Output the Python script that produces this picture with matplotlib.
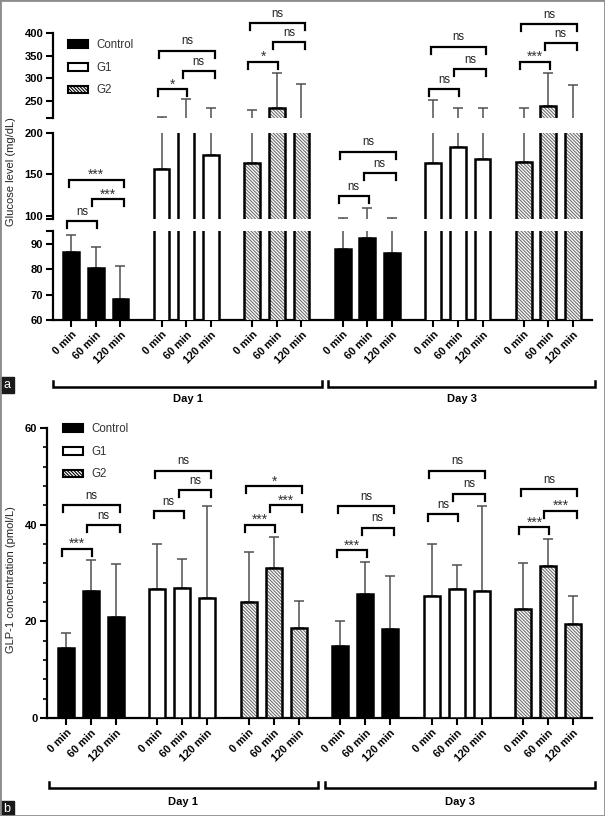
import numpy as np
import matplotlib
matplotlib.use('Agg')
import matplotlib.pyplot as plt
import matplotlib.transforms as mtransforms
from matplotlib.patches import Patch, Rectangle
from matplotlib.ticker import MultipleLocator

plt.rcParams['font.family'] = ['Liberation Sans', 'DejaVu Sans']
plt.rcParams['hatch.linewidth'] = 0.8

days = ['Day 1', 'Day 3']
groups = ['Control', 'G1', 'G2']
times = ['0 min', '60 min', '120 min']

# glucose (mg/dL): Day1 Control/G1/G2 then Day3 Control/G1/G2, 3 time points each
glu_mean = np.array([86.7, 80.4, 68.2, 156.5, 205, 173, 164, 234.5, 205,
                     87.9, 92.2, 86.3, 163.7, 183.4, 168.2, 165, 239, 205])
glu_top = np.array([93.6, 88.9, 81.4, 215, 254, 235, 230, 311, 287,
                    97, 109, 97, 252, 236, 234, 234, 311, 285])

# GLP-1 (pmol/L), same order
glp_mean = np.array([14.5, 26.2, 21.0, 26.6, 26.8, 24.8, 24.1, 31.0, 18.6,
                     15.0, 25.7, 18.5, 25.3, 26.6, 26.3, 22.5, 31.5, 19.4])
glp_top = np.array([17.6, 32.6, 31.9, 36.1, 33.0, 43.8, 34.3, 37.4, 24.3,
                    20.1, 32.3, 29.4, 36.1, 31.7, 43.8, 32.1, 37.0, 25.3])

# significance per group: 0-60, 60-120, 0-120
glu_sig = [['ns', '***', '***'], ['*', 'ns', 'ns'], ['*', 'ns', 'ns'],
           ['ns', 'ns', 'ns'], ['ns', 'ns', 'ns'], ['***', 'ns', 'ns']]
glu_sig_y = [[93.6, 120.2, 143.2], [276.5, 316.8, 361], [336.7, 379.5, 421],
             [123.8, 151.6, 177.4], [276.5, 320.6, 369.8], [336.7, 377, 420]]
glu_sig_ax = ['mid', 'top', 'top', 'mid', 'top', 'top']

glp_sig = [['***', 'ns', 'ns'], ['ns', 'ns', 'ns'], ['***', '***', '*'],
           ['***', 'ns', 'ns'], ['ns', 'ns', 'ns'], ['***', '***', 'ns']]
glp_sig_y = [[35.0, 39.9, 44.1], [42.8, 47.1, 51.2], [40.0, 44.0, 47.9],
             [34.7, 39.4, 43.9], [42.2, 46.4, 51.2], [39.5, 42.9, 47.4]]

W, H = 605, 816
fig = plt.figure(figsize=(W / 100, H / 100), dpi=100)


def box(x0, y0, x1, y1):
    return [x0 / W, 1 - y1 / H, (x1 - x0) / W, (y1 - y0) / H]


pos = np.array([g * 11 / 3 + i for g in range(6) for i in range(3)])
kind = np.array([(k // 3) % 3 for k in range(18)])
HATCH = '\\' * 10


def draw_bars(ax, means, tops):
    for g in range(3):
        idx = kind == g
        if g == 2:
            ax.bar(pos[idx], means[idx], width=0.64, color='white', edgecolor='#707070',
                   lw=0, hatch=HATCH, zorder=3)
            ax.bar(pos[idx], means[idx], width=0.64, fill=False, edgecolor='black',
                   lw=1.8, zorder=4)
        else:
            ax.bar(pos[idx], means[idx], width=0.64, color=['black', 'white'][g],
                   edgecolor='black', lw=1.8, zorder=3)
    ax.errorbar(pos, means, yerr=[np.zeros(18), tops - means], fmt='none',
                ecolor='#505050', elinewidth=1.1, capsize=3.4, capthick=1.1, zorder=2)


def style(ax, bottom=True):
    for s in ['top', 'right']:
        ax.spines[s].set_visible(False)
    ax.spines['left'].set_linewidth(1.6)
    ax.tick_params(axis='y', length=5, width=1.5, labelsize=8, pad=2)
    for t in ax.get_yticklabels():
        t.set_fontweight('bold')
    if bottom:
        ax.spines['bottom'].set_linewidth(1.6)
        ax.set_xticks(pos)
        ax.set_xticklabels(times * 6, rotation=45, ha='right', rotation_mode='anchor',
                           fontsize=7.8, fontweight='bold')
        ax.tick_params(axis='x', length=5, width=1.5, pad=2)
    else:
        ax.spines['bottom'].set_visible(False)
        ax.set_xticks([])


def bracket(ax, x1, x2, y, label, leg=7):
    yd = ax.transData.transform((0, y))[1]
    yl = ax.transData.inverted().transform((0, yd - leg))[1]
    ax.plot([x1, x1, x2, x2], [yl, y, y, yl], color='black', lw=1.6, clip_on=False,
            solid_joinstyle='miter', zorder=5)
    if label == 'ns':
        ax.annotate(label, xy=((x1 + x2) / 2, y), xytext=(0, 4.5), textcoords='offset points',
                    ha='center', va='baseline', fontsize=8.3, color='#222222',
                    annotation_clip=False)
    else:
        ax.annotate(label, xy=((x1 + x2) / 2, y), xytext=(0, 0.5), textcoords='offset points',
                    ha='center', va='baseline', fontsize=10, color='#333333',
                    annotation_clip=False)


def sig_brackets(g, labels, ys, ax):
    c = g * 11 / 3
    bracket(ax, c - 0.15, c + 1.05, ys[0], labels[0])
    bracket(ax, c + 0.85, c + 2.15, ys[1], labels[1])
    bracket(ax, c - 0.1, c + 2.15, ys[2], labels[2])


def day_brackets(ax, ypx, ytxt, ends):
    tr = mtransforms.blended_transform_factory(ax.transData, fig.transFigure)
    for (x1, x2), d in zip(ends, days):
        yb, yt = 1 - ypx / H, 1 - (ypx - 6) / H
        ax.plot([x1, x1, x2, x2], [yt, yb, yb, yt], color='black', lw=1.8,
                transform=tr, clip_on=False, solid_joinstyle='miter')
        ax.text((x1 + x2) / 2, 1 - ytxt / H, d, transform=tr, ha='center', va='center',
                fontsize=8, fontweight='bold')


handles = [Patch(facecolor='black', edgecolor='black', lw=1.5),
           Patch(facecolor='white', edgecolor='black', lw=1.5),
           Patch(facecolor='white', edgecolor='black', lw=1.5, hatch=HATCH)]

# ---- panel a: broken glucose axis ----
ax_top = fig.add_axes(box(53, 33, 592, 118))
ax_mid = fig.add_axes(box(53, 133, 592, 219))
ax_bot = fig.add_axes(box(53, 231, 592, 320))
xl_a = (-0.73, 21.1)
for ax, lim, ticks, labs in [
        (ax_top, (213, 400), [213, 250, 300, 350, 400], ['', '250', '300', '350', '400']),
        (ax_mid, (96, 200), [96, 100, 150, 200], ['', '100', '150', '200']),
        (ax_bot, (60, 95), [60, 70, 80, 90, 95], ['60', '70', '80', '90', ''])]:
    draw_bars(ax, glu_mean, glu_top)
    ax.set_xlim(*xl_a)
    ax.set_ylim(*lim)
    ax.set_yticks(ticks)
    ax.set_yticklabels(labs)
    style(ax, bottom=ax is ax_bot)

for g in range(6):
    sig_brackets(g, glu_sig[g], glu_sig_y[g], ax_top if glu_sig_ax[g] == 'top' else ax_mid)

ax_top.legend(handles, groups, loc='upper left', bbox_to_anchor=(68 / W, 1 - 39 / H),
              bbox_transform=fig.transFigure, frameon=False, fontsize=8.3,
              handlelength=1.75, handleheight=0.65, labelspacing=0.93, handletextpad=0.75,
              borderpad=0, borderaxespad=0, labelcolor='#333333')
fig.text(11 / W, 1 - 172 / H, 'Glucose level (mg/dL)', rotation=90, ha='center',
         va='center', fontsize=8, color='#222222')
day_brackets(ax_bot, 387, 399, [(-0.73, 10.17), (10.41, 21.22)])

# ---- panel b: GLP-1 ----
ax_b = fig.add_axes(box(47, 428, 592, 718))
draw_bars(ax_b, glp_mean, glp_top)
ax_b.set_xlim(-0.76, 21.09)
ax_b.set_ylim(0, 60)
ax_b.set_yticks([0, 20, 40, 60])
ax_b.yaxis.set_minor_locator(MultipleLocator(4))
style(ax_b)
ax_b.tick_params(axis='y', which='minor', length=3, width=1.2)
for g in range(6):
    sig_brackets(g, glp_sig[g], glp_sig_y[g], ax_b)
ax_b.legend(handles, groups, loc='upper left', bbox_to_anchor=(63 / W, 1 - 423 / H),
            bbox_transform=fig.transFigure, frameon=False, fontsize=8.3,
            handlelength=1.75, handleheight=0.65, labelspacing=0.93, handletextpad=0.75,
            borderpad=0, borderaxespad=0, labelcolor='#333333')
fig.text(11 / W, 1 - 580 / H, 'GLP-1 concentration (pmol/L)', rotation=90, ha='center',
         va='center', fontsize=8, color='#222222')
day_brackets(ax_b, 788, 802, [(-0.68, 10.1), (10.38, 21.21)])

# panel letters and frame
for lab, y0, y1 in [('a', 377, 393), ('b', 801, 816)]:
    fig.patches.append(Rectangle((0, 1 - y1 / H), 14 / W, (y1 - y0) / H,
                                 transform=fig.transFigure, color='#1a1a1a'))
    fig.text(7 / W, 1 - (y0 + y1) / 2 / H, lab, color='white', ha='center', va='center',
             fontsize=9)
fig.patches.append(Rectangle((0, 0), 1, 1, transform=fig.transFigure, fill=False,
                             edgecolor='#8c8c8c', lw=2))

fig.savefig('out.png', dpi=100)
